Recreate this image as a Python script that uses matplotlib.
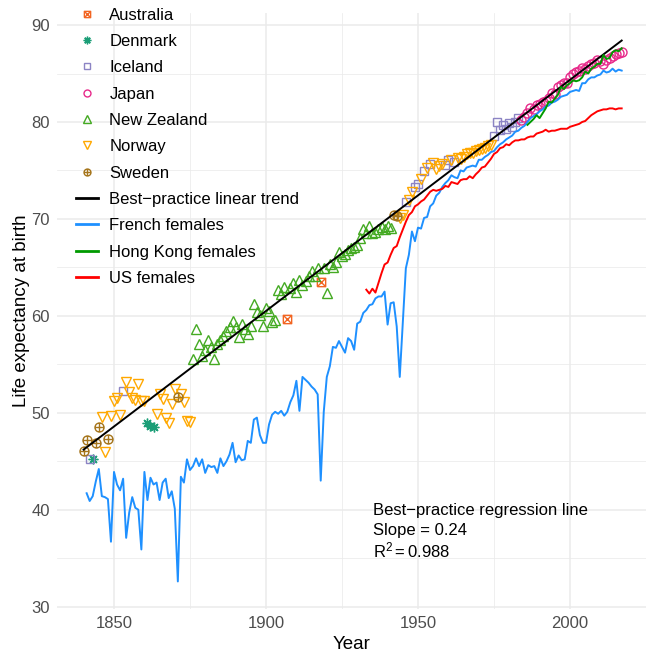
import numpy as np
import matplotlib
matplotlib.use("Agg")
import matplotlib.pyplot as plt
from matplotlib.path import Path
from matplotlib.lines import Line2D

plt.rcParams['font.family'] = ['Liberation Sans', 'DejaVu Sans']
plt.rcParams['mathtext.default'] = 'regular'

# best-practice female life expectancy, one country per year (1840-2017)
bp_years = np.arange(1840, 2018)
bp_country = (
    "SSIDSSNNSNNNNINNNNNNNDDDNNNNNNNSNNN"   # 1840-1874
    "N"                                     # 1875
    "ZZZZZZZZZZZZZZZZZZZZZZZZZZZZZZZ"       # 1876-1906
    "A" "ZZZZZZZZZZ" "A"                    # 1907-1918
    "ZZZZZZZZZZZZZZZZZZZZZZZ"               # 1919-1941
    "SSNNINNIINININNNNIININNNNNNNNNNN"      # 1942-1973
    "N" "IIIIIIIII"                         # 1974-1983
    "JJJJJJJJJJJJJJJJJJJJJJJJJJJJJJJJJJ"    # 1984-2017
)
bp_e0 = [
    46.1, 47.2, 45.2, 45.2, 46.9, 48.5, 49.6, 46.0, 47.3, 49.7,
    51.2, 51.5, 49.8, 52.2, 53.2, 52.1, 51.5, 51.3, 53.0, 51.2,
    51.2, 48.9, 48.6, 48.5, 49.9, 51.9, 51.4, 49.5, 48.9, 50.9,
    52.5, 51.6, 51.9, 51.1, 49.2, 49.0,
    55.5, 58.6, 57.1, 55.9, 56.5, 57.5, 56.8, 55.5, 57.1, 57.5,
    57.9, 58.4, 58.9, 59.5, 58.8, 57.8, 59.2, 58.6, 58.1, 59.0,
    61.2, 60.4, 60.1, 59.0, 60.8, 60.5, 59.4, 59.6, 62.7, 62.3,
    63.0, 59.7, 62.9, 63.4, 62.5, 63.7, 63.2, 63.6, 64.1, 64.6,
    64.1, 64.9, 63.5, 64.9, 62.4, 65.4, 65.0, 65.6, 66.6, 66.2,
    66.4, 66.8, 67.0, 67.1, 67.3, 68.0, 69.0, 68.5, 69.3, 68.5,
    68.7, 69.0, 69.2, 69.0, 69.3, 69.1,
    70.4, 70.3, 70.1, 70.4, 71.7, 71.9, 72.8, 73.3, 73.6, 74.1,
    74.9, 75.3, 75.7, 75.8, 75.2, 75.5, 75.7, 75.6, 76.1, 76.1,
    75.9, 76.3, 76.2, 76.4, 76.7, 76.8, 76.8, 77.0, 77.1, 77.2,
    77.3, 77.5, 77.6, 78.6, 80.0, 79.2, 79.7, 79.3, 79.9, 79.5,
    80.0, 80.4,
    80.2, 80.5, 80.9, 81.4, 81.3, 81.8, 81.9, 82.1, 82.2, 82.5,
    83.0, 82.9, 83.6, 83.8, 84.0, 84.0, 84.6, 84.9, 85.2, 85.3,
    85.6, 85.5, 85.8, 86.0, 86.1, 86.4, 86.3, 86.0, 86.4, 86.6,
    86.8, 87.0, 87.1, 87.2,
]

# best-practice linear trend, end points
trend_years = [1840, 2017]
trend_e0 = [46.2, 88.4]

# French females 1841-2017
fr_years = np.arange(1841, 2018)
fr_e0 = [
    41.7, 40.9, 41.4, 42.9, 44.2, 41.4, 41.3, 41.1, 36.7,
    43.9, 42.6, 42.0, 43.2, 37.1, 39.7, 41.3, 40.2, 40.0, 35.9,
    43.9, 41.0, 43.3, 42.6, 42.8, 41.0, 42.8, 43.2, 41.2, 41.9,
    40.1, 32.6, 43.4, 42.8, 45.2, 44.1, 44.5, 45.3, 44.5, 45.2,
    43.8, 44.6, 44.4, 44.5, 43.8, 45.3, 44.5, 45.0, 45.7, 46.9,
    44.9, 45.6, 45.1, 45.2, 47.1, 46.9, 49.3, 49.5, 47.7, 46.9,
    46.9, 48.8, 49.8, 50.1, 49.9, 50.2, 49.7, 50.1, 51.1, 51.8,
    53.3, 50.2, 53.7, 53.4, 53.1, 52.7, 52.4, 51.9, 43.0, 50.1,
    53.7, 54.8, 56.8, 56.7, 57.4, 56.8, 56.2, 57.7, 57.4, 56.5,
    59.2, 59.4, 60.3, 60.6, 61.1, 61.2, 61.8, 62.0, 62.0, 62.5,
    59.1, 61.3, 61.4, 58.9, 53.7, 59.3, 64.9, 66.3, 68.7, 67.7,
    69.1, 69.0, 70.1, 70.2, 71.3, 71.6, 72.4, 72.7, 73.3, 73.7,
    74.0, 74.5, 74.3, 74.2, 75.0, 74.9, 75.3, 75.4, 75.5, 75.4,
    76.1, 76.1, 76.4, 76.6, 76.9, 77.0, 77.4, 77.7, 77.9, 78.2,
    78.4, 78.6, 79.0, 79.1, 79.4, 79.6, 80.0, 80.4, 80.6, 80.8,
    81.1, 81.3, 81.6, 81.7, 82.0, 82.1, 82.3, 82.6, 82.7, 82.8,
    83.1, 83.2, 83.3, 83.2, 84.0, 84.0, 84.4, 84.6, 84.6, 84.8,
    84.9, 85.3, 85.1, 85.2, 85.5, 85.2, 85.4, 85.3,
]

# Hong Kong females 1986-2017
hk_years = np.arange(1986, 2018)
hk_e0 = [
    79.7, 80.0, 80.3, 80.7, 80.4, 80.9, 81.4, 82.1, 82.0, 82.4,
    82.8, 83.6, 83.4, 83.8, 84.0, 84.3, 84.2, 84.3, 84.6, 85.2,
    85.0, 85.5, 85.7, 86.0, 86.0, 86.9, 86.5, 86.6, 87.2, 87.4,
    87.3, 87.6,
]

# US females 1933-2017
us_years = np.arange(1933, 2018)
us_e0 = [
    62.7, 62.3, 62.8, 62.4, 63.4, 64.4, 65.3,
    65.5, 66.3, 67.0, 67.2, 68.1, 68.9, 69.7, 70.4, 70.7, 71.3,
    71.5, 71.8, 72.0, 72.4, 72.8, 73.0, 72.9, 73.0, 73.1, 73.4,
    73.3, 73.8, 73.7, 73.6, 74.0, 74.1, 74.1, 74.4, 74.2, 74.6,
    74.9, 75.3, 75.4, 75.8, 76.2, 76.7, 76.9, 77.3, 77.4, 77.7,
    77.6, 77.9, 78.1, 78.1, 78.2, 78.2, 78.4, 78.5, 78.5, 78.8,
    78.9, 79.0, 79.2, 79.0, 79.1, 79.1, 79.2, 79.3, 79.3, 79.3,
    79.5, 79.6, 79.7, 79.8, 80.0, 80.1, 80.4, 80.7, 80.9, 81.1,
    81.2, 81.3, 81.3, 81.4, 81.4, 81.3, 81.4, 81.4,
]

countries = ["Australia", "Denmark", "Iceland", "Japan", "New Zealand", "Norway", "Sweden"]
codes = ["A", "D", "I", "J", "Z", "N", "S"]
colors = ["#F26522", "#1B9E77", "#8C84C4", "#E7298A", "#44AA22", "#FFA800", "#A6761D"]

# R-like point shapes
sq_cross = Path.make_compound_path(
    Path([[-1, -1], [1, -1], [1, 1], [-1, 1], [-1, -1]]),
    Path([[-1, -1], [1, 1]]), Path([[-1, 1], [1, -1]]))
circ_plus = Path.make_compound_path(
    Path.unit_circle(), Path([[-1, 0], [1, 0]]), Path([[0, -1], [0, 1]]))
shapes = [sq_cross, (8, 2, 0), "s", "o", "^", "v", circ_plus]
sizes = [6, 7, 6, 6.5, 7, 7, 6.5]

fig = plt.figure(figsize=(6.46, 6.53), dpi=100)
ax = fig.add_axes([57 / 646, 44.4 / 653, 589 / 646, 595.2 / 653])

code_arr = np.array(list(bp_country))
bp_arr = np.array(bp_e0)
handles = []
for name, c, col, mk, ms in zip(countries, codes, colors, shapes, sizes):
    sel = code_arr == c
    ax.plot(bp_years[sel], bp_arr[sel], linestyle="none", marker=mk, ms=ms,
            mfc="none", mec=col, mew=1.0, zorder=3)
    handles.append(Line2D([], [], linestyle="none", marker=mk, ms=ms - 1.5,
                          mfc="none", mec=col, mew=1.0, label=name))

ax.plot(trend_years, trend_e0, color="black", lw=1.4, zorder=4)
ax.plot(fr_years, fr_e0, color="#1E90FF", lw=1.4, zorder=4)
ax.plot(hk_years, hk_e0, color="#009A00", lw=1.4, zorder=4)
ax.plot(us_years, us_e0, color="#FF0000", lw=1.4, zorder=4)

handles += [
    Line2D([], [], color="black", lw=2, label="Best\u2212practice linear trend"),
    Line2D([], [], color="#1E90FF", lw=2, label="French females"),
    Line2D([], [], color="#009A00", lw=2, label="Hong Kong females"),
    Line2D([], [], color="#FF0000", lw=2, label="US females"),
]

ax.set_xlim(1831.25, 2025.0)
ax.set_ylim(29.8, 91.2)
ax.set_xticks([1850, 1900, 1950, 2000])
ax.set_xticks([1875, 1925, 1975, 2025], minor=True)
ax.set_yticks(np.arange(30, 100, 10))
ax.set_yticks(np.arange(35, 95, 10), minor=True)
ax.grid(which="major", color="#EBEBEB", lw=1.1)
ax.grid(which="minor", color="#EBEBEB", lw=0.55)
ax.set_axisbelow(True)
for s in ax.spines.values():
    s.set_visible(False)
ax.tick_params(which="both", length=0, labelsize=12, labelcolor="#4D4D4D")
ax.tick_params(axis="x", pad=5)
ax.tick_params(axis="y", pad=5)
ax.set_xlabel("Year", fontsize=13.5, labelpad=4)
ax.set_ylabel("Life expectancy at birth", fontsize=13.5, labelpad=1)

ax.text(1935.2, 39.9, "Best\u2212practice regression line", fontsize=12, va="center")
ax.text(1935.2, 37.85, "Slope = 0.24", fontsize=12, va="center")
ax.text(1935.2, 35.8, r"R$^2$$\,$=$\,$0.988", fontsize=12, va="center")

fig.legend(handles=handles, loc="upper left", bbox_to_anchor=(76 / 646, 1 - 7.5 / 653),
           frameon=False, fontsize=12, handlelength=1.3, handletextpad=0.7,
           labelspacing=0.68, borderpad=0, borderaxespad=0)

fig.savefig("out.png", dpi=100)
